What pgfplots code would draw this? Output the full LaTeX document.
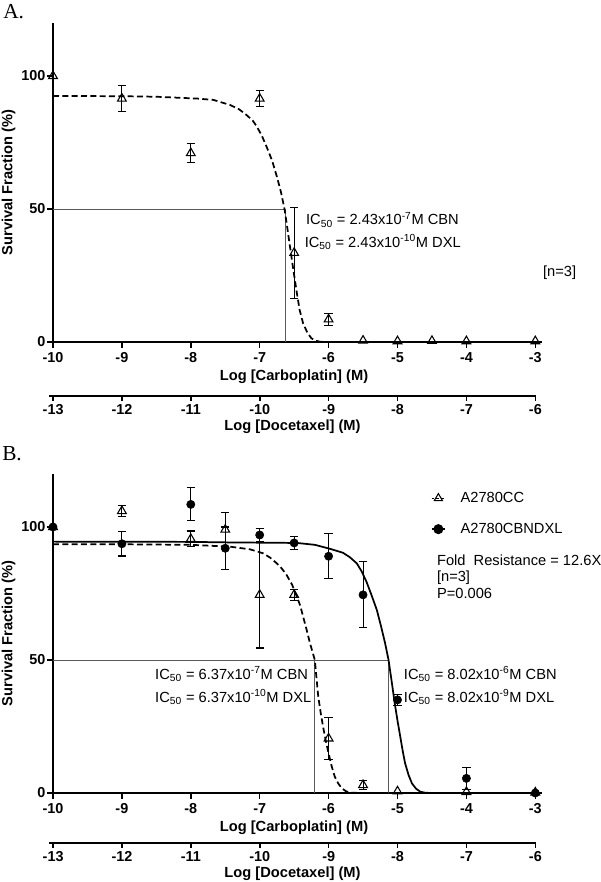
\documentclass[border=0pt]{standalone}
\usepackage{fontspec}
\setmainfont{Liberation Sans}
\newfontfamily\seriffont{Liberation Serif}
\usepackage{pgfplots}
\pgfplotsset{compat=1.18}

\tikzset{ann/.style={anchor=west, inner sep=0pt, font=\fontsize{11}{13}\selectfont}}
\pgfplotsset{
  mainax/.style={
    scale only axis, width=366.9pt, height=239.4pt,
    xmin=-10, xmax=-2.9, ymin=0, ymax=120, enlargelimits=false,
    axis lines*=left, clip=false,
    axis line style={line width=1.1pt},
    xtick={-10,...,-3}, ytick={0,50,100},
    tick align=outside, major tick length=4.5pt,
    tick style={line width=1.1pt,black},
    /pgf/number format/assume math mode=true,
    ticklabel style={font=\bfseries\fontsize{10.8}{12}\selectfont},
    yticklabel style={inner sep=1pt},
    xlabel={Log [Carboplatin] (M)},
    ylabel={Survival Fraction (\%)},
    label style={font=\bfseries\fontsize{11}{13}\selectfont},
    xlabel style={at={(axis description cs:0.4927,0)}, anchor=center, yshift=-26.25pt},
    ylabel style={at={(axis description cs:-0.091,0.5)}, anchor=center},
  },
  docax/.style={
    scale only axis, width=365.3pt, height=1pt,
    xmin=-13.06, xmax=-5.99, ymin=0, ymax=1, enlargelimits=false,
    axis x line*=bottom, axis y line=none, clip=false,
    axis line style={line width=1.1pt},
    xtick={-13,...,-6}, ytick=\empty,
    tick align=outside, major tick length=3.4pt,
    tick style={line width=1.1pt,black},
    /pgf/number format/assume math mode=true,
    ticklabel style={font=\bfseries\fontsize{10.8}{12}\selectfont, inner sep=3pt},
    xlabel={Log [Docetaxel] (M)},
    label style={font=\bfseries\fontsize{11}{13}\selectfont},
    xlabel style={at={(axis description cs:0.5,0)}, anchor=center, yshift=-23.25pt},
  },
  cc/.style={only marks, mark=triangle, mark size=3.8pt, mark options={fill=white, line width=0.8pt, draw=black}},
  dx/.style={only marks, mark=*, mark size=3.1pt, mark options={fill=black, draw=black}},
  eb/.style={error bars/y dir=both, error bars/y explicit,
    error bars/error bar style={line width=0.8pt, black},
    error bars/error mark options={rotate=90, mark size=3.1pt, line width=0.8pt, black}},
  refl/.style={black!65, line width=0.7pt},
  dcurve/.style={black, line width=1.3pt, dash pattern=on 4.5pt off 2.5pt},
  scurve/.style={black, line width=1.3pt},
}

\begin{document}
\begin{tikzpicture}
\useasboundingbox (0,0) rectangle (450pt,661.5pt);

\node[anchor=base west, inner sep=0pt, font=\seriffont\fontsize{16}{19}\selectfont] at (2.25pt,647.8pt) {A.};
\node[anchor=base west, inner sep=0pt, font=\seriffont\fontsize{16}{19}\selectfont] at (1.5pt,315.75pt) {B.};

% ---------------- Panel A ----------------
\begin{axis}[mainax, at={(39.75pt,405pt)}, anchor=south west]
\addplot[refl] coordinates {(-10,50) (-6.62,50) (-6.62,0)};
\addplot[dcurve] coordinates {
(-10,92.5) (-9,92.4) (-8.5,92.2) (-8.157,91.8) (-7.9,91.5) (-7.67,91.0) (-7.43,89.1)
(-7.3,87.5) (-7.19,85.3) (-7.1,83.2) (-7.04,80.9) (-6.97,77.6) (-6.90,73.4) (-6.82,68.2) (-6.75,62.1) (-6.69,56.2) (-6.64,50) (-6.60,43) (-6.56,35.8) (-6.51,26.8)
(-6.46,18.3) (-6.42,12) (-6.37,7.0) (-6.31,3.6) (-6.25,1.4) (-6.19,0.5) (-6.125,0.1) (-6.0,0) (-3,0)};
\addplot[cc, eb] table[x=x, y=y, y error=e, row sep=\\] {
x y e\\
-9 91.5 5\\
-8 71 3.6\\
-7 91.5 3\\
-6.5 33.5 17\\
-6 8.5 2.3\\
};
\addplot[cc] table[x=x, y=y, row sep=\\] {
x y\\
-10 100\\
-5.5 0.5\\
-5 0.3\\
-4.5 0.4\\
-4 0.3\\
-3 0.3\\
};
\node[ann] at (axis cs:-6.33,45.9) {IC\textsubscript{50} = 2.43x10\textsuperscript{-7}M CBN};
\node[ann] at (axis cs:-6.35,37.6) {IC\textsubscript{50} = 2.43x10\textsuperscript{-10}M DXL};
\node[ann] at (axis cs:-2.89,26) {[n=3]};
\end{axis}

\begin{axis}[docax, at={(36.75pt,364.5pt)}, anchor=south west]
\addplot[draw=none] coordinates {(-10,0.5)};
\end{axis}

% ---------------- Panel B ----------------
\begin{axis}[mainax, at={(39.75pt,66.75pt)}, anchor=south west,
  legend style={at={(axis cs:-4.52,105)}, anchor=west, draw=none, fill=none,
    inner sep=0pt, row sep=10pt, font=\fontsize{11}{13}\selectfont},
  legend cell align=left,
  legend image code/.code={\path (0pt,0pt) (19pt,0pt); \draw[mark repeat=2,mark phase=2,#1] plot coordinates {(0pt,0pt) (5pt,0pt) (10pt,0pt)};}]
\addplot[refl, forget plot] coordinates {(-10,50) (-5.13,50) (-5.13,0)};
\addplot[refl, forget plot] coordinates {(-6.20,50) (-6.20,0)};
\addplot[dcurve, forget plot] coordinates {
(-10,93.5) (-9,93.5) (-8,93.3) (-7.43,92.6) (-7.14,91.6) (-6.95,90.1) (-6.85,88.5)
(-6.75,86.3) (-6.68,84.4) (-6.61,82.0) (-6.53,78.3) (-6.46,73.8) (-6.41,70.3) (-6.37,66.3) (-6.32,61.5) (-6.27,56.3) (-6.20,50) (-6.175,43)
(-6.15,36.2) (-6.115,30.2) (-6.08,24.9) (-6.04,19.5) (-6.00,14.9) (-5.955,10) (-5.91,6.1) (-5.86,3.6) (-5.81,1.8) (-5.75,0.7) (-5.69,0.1)
(-5.5,0) (-3,0)};
\addplot[scurve, forget plot] coordinates {
(-10,94.5) (-8,94.4) (-7.43,94.2) (-6.46,94.0) (-6.2,93.3) (-5.98,91.8) (-5.79,90.3) (-5.69,88.6)
(-5.59,86.3) (-5.52,83.3) (-5.45,79.4) (-5.38,74.6) (-5.30,68.8) (-5.24,62.8) (-5.18,56.3) (-5.13,50) (-5.085,42) (-5.04,33.7) (-5.0,27.2)
(-4.96,21.2) (-4.925,15.9) (-4.89,11.2) (-4.84,6.8) (-4.79,3.6) (-4.73,1.6) (-4.67,0.5) (-4.6,0.1) (-4.52,0) (-3,0)};
\addplot[cc, eb, forget plot] table[x=x, y=y, y error=e, row sep=\\] {
x y e\\
-9 106 2\\
-8 95.5 3\\
-7.5 99 6.6\\
-7 74.5 20\\
-6.5 74.5 2\\
-6 20.5 8\\
-5.5 3 1.8\\
};
\addplot[cc, forget plot] table[x=x, y=y, row sep=\\] {
x y\\
-10 100\\
-5 0.6\\
-4 0.4\\
-3 0.2\\
};
\addplot[dx, eb, forget plot] table[x=x, y=y, y error=e, row sep=\\] {
x y e\\
-9 93.7 4.6\\
-8 108.5 6.2\\
-7.5 92 8\\
-7 97 2.5\\
-6.5 94 2.3\\
-6 89 8.4\\
-5.5 74.5 12.4\\
-5 35 2.2\\
-4 5.5 4.2\\
};
\addplot[dx, forget plot] table[x=x, y=y, row sep=\\] {
x y\\
-10 100\\
-3 0\\
};
\addlegendimage{black, line width=1pt, dash pattern=on 2pt off 1.5pt, mark=triangle, mark options={solid, fill=white, mark size=3.5pt, line width=0.8pt}}
\addlegendentry{A2780CC}
\addlegendimage{black, line width=1.3pt, mark=*, mark options={mark size=3.1pt}}
\addlegendentry{A2780CBNDXL}
\node[ann] at (axis cs:-8.52,44.7) {IC\textsubscript{50} = 6.37x10\textsuperscript{-7}M CBN};
\node[ann] at (axis cs:-8.52,36.1) {IC\textsubscript{50} = 6.37x10\textsuperscript{-10}M DXL};
\node[ann] at (axis cs:-4.91,44.7) {IC\textsubscript{50} = 8.02x10\textsuperscript{-6}M CBN};
\node[ann] at (axis cs:-4.91,36.1) {IC\textsubscript{50} = 8.02x10\textsuperscript{-9}M DXL};
\node[ann] at (axis cs:-4.43,87.6) {Fold\ \ Resistance = 12.6X};
\node[ann] at (axis cs:-4.43,81.1) {[n=3]};
\node[ann] at (axis cs:-4.43,75.0) {P=0.006};
\end{axis}

\begin{axis}[docax, at={(36.75pt,29.25pt)}, anchor=south west]
\addplot[draw=none] coordinates {(-10,0.5)};
\end{axis}
\end{tikzpicture}
\end{document}
